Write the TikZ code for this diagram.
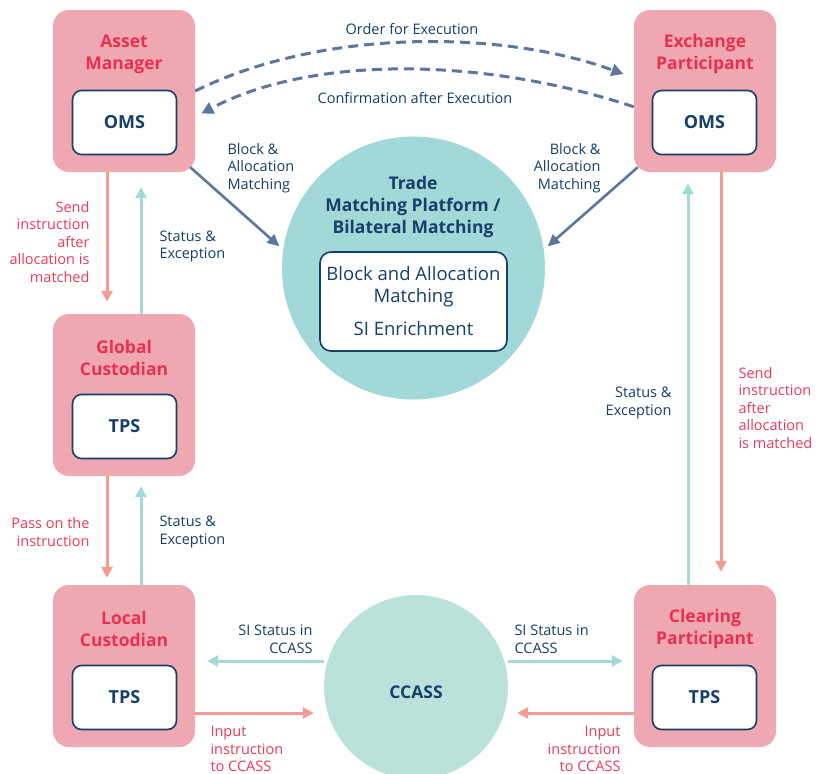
\documentclass[tikz,border=0pt]{standalone}
\usepackage{fontspec}
\setmainfont{Open Sans}
\usetikzlibrary{arrows.meta,calc}
\definecolor{boxpink}{HTML}{EFA8B2}
\definecolor{titlered}{HTML}{E8314F}
\definecolor{navy}{HTML}{163F69}
\definecolor{tealc}{HTML}{A3D8D8}
\definecolor{mintc}{HTML}{BBE2DA}
\definecolor{salmon}{HTML}{F39C93}
\definecolor{tealarrow}{HTML}{A3DAD8}
\definecolor{slate}{HTML}{5F769C}
\definecolor{labelred}{HTML}{EA3A5A}
\tikzset{
  x=1pt,y=-1pt,
  party/.style={draw=none,fill=boxpink,rounded corners=16pt,minimum width=142pt,minimum height=162pt,inner sep=0pt},
  sysbox/.style={draw=navy,line width=1.6pt,fill=white,rounded corners=9pt,minimum width=104pt,minimum height=64pt,inner sep=0pt,font=\fontsize{18}{20}\selectfont\bfseries,text=navy},
  ptitle/.style={font=\fontsize{17.5}{22}\selectfont\bfseries,text=titlered,align=center},
  navylbl/.style={font=\fontsize{14.5}{17.5}\selectfont,text=navy},
  redlbl/.style={font=\fontsize{14.5}{17.5}\selectfont,text=labelred},
  pinkarrow/.style={draw=salmon,line width=3pt,-{Triangle[length=11pt,width=11pt]}},
  tealarr/.style={draw=tealarrow,line width=3pt,-{Triangle[length=11pt,width=11pt]}},
  slatearrow/.style={draw=slate,line width=2.6pt,-{Triangle[length=12pt,width=11pt]}},
  dasharrow/.style={draw=slate,line width=3pt,dash pattern=on 10pt off 6pt,-{Triangle[length=12pt,width=12pt]}},
}
\begin{document}
\begin{tikzpicture}
\useasboundingbox (0,0) rectangle (825,774);
\fill[white] (0,0) rectangle (825,774);

% circles
\node[circle,fill=tealc,minimum size=263pt,inner sep=0pt] (tm) at (413.5,268) {};
\node[circle,fill=mintc,minimum size=184pt,inner sep=0pt] (cc) at (416,687) {};
\node[font=\fontsize{17.5}{22}\selectfont\bfseries,text=navy] (cct) at (416,692) {CCASS};
\node[font=\fontsize{17.5}{22}\selectfont\bfseries,text=navy,align=center] (tmt) at (413,207) {Trade\\Matching Platform /\\Bilateral Matching};
\node[draw=navy,line width=1.6pt,fill=white,rounded corners=11pt,minimum width=187pt,minimum height=99pt,inner sep=0pt,
      font=\fontsize{18.5}{22}\selectfont,text=navy,align=center] (tmb) at (413.5,301.5)
      {Block and Allocation\\Matching\\[11pt]SI Enrichment};

% parties
\node[party] (am) at (124,91) {};
\node[party] (ep) at (705,91) {};
\node[party] (gc) at (124,395) {};
\node[party] (lc) at (124,666) {};
\node[party] (cp) at (705,666) {};

\node[ptitle] (amt) at (124,54) {Asset\\Manager};
\node[ptitle] (ept) at (705,54) {Exchange\\Participant};
\node[ptitle] (gct) at (124,358) {Global\\Custodian};
\node[ptitle] (lct) at (124,629) {Local\\Custodian};
\node[ptitle] (cpt) at (705,629) {Clearing\\Participant};

\node[sysbox] (amo) at (124.5,122.5) {OMS};
\node[sysbox] (epo) at (704.5,122.5) {OMS};
\node[sysbox] (gco) at (124.5,426.5) {TPS};
\node[sysbox] (lco) at (124.5,697.5) {TPS};
\node[sysbox] (cpo) at (704.5,697.5) {TPS};

% x positions
\coordinate (xa) at (107,0);
\coordinate (xb) at (141,0);
\coordinate (xc) at (688,0);
\coordinate (xd) at (721,0);

% vertical arrows
\draw[pinkarrow,shorten >=12pt] (am.south -| xa) -- (gc.north -| xa);
\draw[tealarr,shorten >=15pt] (gc.north -| xb) -- (am.south -| xb);
\draw[pinkarrow,shorten >=7pt] (gc.south -| xa) -- (lc.north -| xa);
\draw[tealarr,shorten >=10pt] (lc.north -| xb) -- (gc.south -| xb);
\draw[pinkarrow,shorten >=13pt] (ep.south -| xd) -- (cp.north -| xd);
\draw[tealarr,shorten >=11pt] (cp.north -| xc) -- (ep.south -| xc);

% CCASS arrows
\coordinate (ysi) at (0,661);
\coordinate (yin) at (0,713);
\draw[tealarr,shorten >=12pt] (cc.west |- ysi) -- (lc.east |- ysi);
\draw[tealarr,shorten >=11pt] (cc.east |- ysi) -- (cp.west |- ysi);
\draw[pinkarrow,shorten >=10pt] (lc.east |- yin) -- (cc.west |- yin);
\draw[pinkarrow,shorten >=9pt] (cp.west |- yin) -- (cc.east |- yin);

% block arrows
\draw[slatearrow,shorten >=5pt] ($(am.south east)+(-5,-5)$) -- (tm.172);
\draw[slatearrow,shorten >=5pt] ($(ep.south west)+(4,-5)$) -- (tm.8);

% dashed curves
\coordinate (oe) at ($(ep.north west)+(0,68)$);
\coordinate (cs) at ($(ep.north west)+(0,97)$);
\coordinate (ce) at ($(am.north east)+(0,107)$);
\draw[dasharrow,shorten >=11pt] (am.east) .. controls (320,29) and (500,29) .. (oe);
\draw[dasharrow,shorten >=7pt] (cs) .. controls (480,56) and (310,56) .. (ce);

% labels
\node[navylbl] (lo) at (412,29) {Order for Execution};
\node[navylbl] (lcf) at (415,98) {Confirmation after Execution};
\node[redlbl,align=right,anchor=east] (l1) at (93,242) {Send\\instruction\\after\\allocation is\\matched};
\node[navylbl,align=left,anchor=west] (l2) at (156,246.5) {Status \&\\Exception};
\node[navylbl,align=left,anchor=west] (l3) at (224,168) {Block \&\\Allocation\\Matching};
\node[navylbl,align=right,anchor=east] (l4) at (604,168) {Block \&\\Allocation\\Matching};
\node[redlbl,align=right,anchor=east] (l5) at (93,532) {Pass on the\\instruction};
\node[navylbl,align=left,anchor=west] (l6) at (156,532) {Status \&\\Exception};
\node[navylbl,align=right,anchor=east] (l7) at (675,403) {Status \&\\Exception};
\node[redlbl,align=left,anchor=west] (l8) at (735,408) {Send\\instruction\\after\\allocation\\is matched};
\node[navylbl,align=right,anchor=east] (l9) at (316,639) {SI Status in\\CCASS};
\node[navylbl,align=left,anchor=west] (l10) at (511,639) {SI Status in\\CCASS};
\node[redlbl,align=left,anchor=west] (l11) at (207,749) {Input\\instruction\\to CCASS};
\node[redlbl,align=right,anchor=east] (l12) at (624,749) {Input\\instruction\\to CCASS};
\end{tikzpicture}
\end{document}
